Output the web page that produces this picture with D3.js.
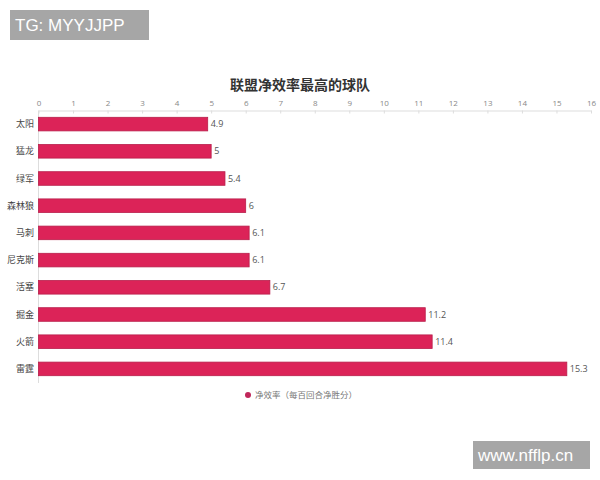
<!DOCTYPE html>
<html><head><meta charset="utf-8">
<script src="https://cdn.jsdelivr.net/npm/d3@7"></script>
<style>body{margin:0;background:#fff;}svg{display:block;font-family:"Noto Sans CJK SC","Noto Sans",sans-serif;}</style>
</head><body>
<svg id="c" width="600" height="480"></svg>
<script>
const categories = ["太阳","猛龙","绿军","森林狼","马刺","尼克斯","活塞","掘金","火箭","雷霆"];
const values = [4.9,5,5.4,6,6.1,6.1,6.7,11.2,11.4,15.3];
const tickValues = [0,1,2,3,4,5,6,7,8,9,10,11,12,13,14,15,16];
const title = "联盟净效率最高的球队";
const seriesName = "净效率（每百回合净胜分）";

const svg = d3.select("#c");
const x = d3.scaleLinear().domain([0,16]).range([38.5,591]);
const y = d3.scaleBand().domain(categories).range([110.5,382.5]).paddingInner(0.5).paddingOuter(0.25);

// title
svg.append("text").attr("x",300).attr("y",90).attr("text-anchor","middle")
  .attr("font-size",14).attr("font-weight","bold").attr("fill","#333").text(title);

// top axis
const ax = svg.append("g").attr("transform","translate(0,110.5)")
  .call(d3.axisTop(x).tickValues(tickValues).tickSize(-3).tickSizeOuter(0).tickPadding(5));
ax.select(".domain").attr("stroke","#ddd");
ax.selectAll(".tick line").attr("stroke","#ddd");
ax.selectAll(".tick text").attr("fill","#888").attr("font-size",8).attr("font-family","Open Sans, sans-serif");

// left line
svg.append("line").attr("x1",38.5).attr("x2",38.5).attr("y1",110.5).attr("y2",383).attr("stroke","#ddd");

// bars
svg.selectAll("rect.bar").data(values).join("rect").attr("class","bar")
  .attr("x",x(0)).attr("y",(d,i)=>y(categories[i]))
  .attr("width",d=>x(d)-x(0)).attr("height",y.bandwidth())
  .attr("fill","#dc2358").attr("stroke","#b81e4b").attr("stroke-width",0.8);

// value labels
svg.selectAll("text.val").data(values).join("text").attr("class","val")
  .attr("x",d=>x(d)+3).attr("y",(d,i)=>y(categories[i])+y.bandwidth()/2)
  .attr("dy","0.35em").attr("font-size",9).attr("fill","#555")
  .attr("font-family","Open Sans, sans-serif").text(d=>d);

// category labels
svg.selectAll("text.cat").data(categories).join("text").attr("class","cat")
  .attr("x",34).attr("y",d=>y(d)+y.bandwidth()/2).attr("dy","0.35em")
  .attr("text-anchor","end").attr("font-size",9).attr("fill","#444").text(d=>d);

// legend
svg.append("circle").attr("cx",248).attr("cy",395).attr("r",3).attr("fill","#c0275a");
svg.append("text").attr("x",255).attr("y",395).attr("dy","0.35em").attr("font-size",8.5).attr("fill","#777").text(seriesName);

// watermarks
svg.append("rect").attr("x",10).attr("y",10).attr("width",139).attr("height",30).attr("fill","#a6a6a6");
svg.append("text").attr("x",15).attr("y",25).attr("dy","0.36em").attr("font-size",17).attr("fill","#fff")
  .attr("font-family","Liberation Sans, Arial, sans-serif").text("TG: MYYJJPP");
svg.append("rect").attr("x",473).attr("y",441).attr("width",117).attr("height",28).attr("fill","#a6a6a6");
svg.append("text").attr("x",478).attr("y",455).attr("dy","0.36em").attr("font-size",17).attr("fill","#fff")
  .attr("font-family","Liberation Sans, Arial, sans-serif").text("www.nfflp.cn");
</script>
</body></html>
